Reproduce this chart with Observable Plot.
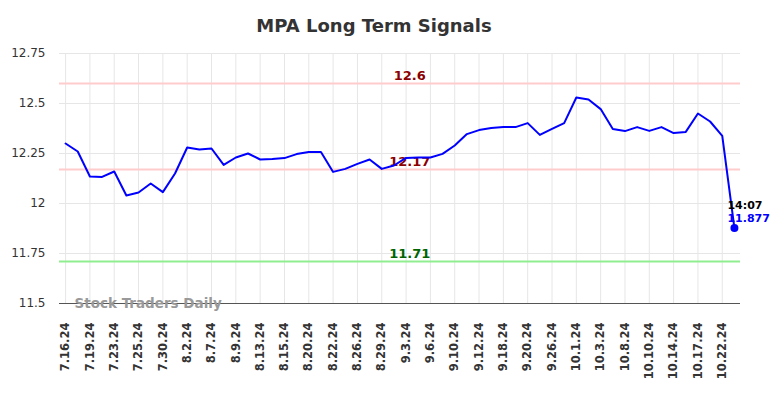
<!DOCTYPE html>
<html>
<head>
<meta charset="utf-8">
<script src="https://cdn.jsdelivr.net/npm/d3@7"></script>
<script src="https://cdn.jsdelivr.net/npm/@observablehq/plot@0.6"></script>
<style>
  body { margin: 0; background: #fff; font-family: "DejaVu Sans", sans-serif; }
  #title { height: 40px; width: 784px; box-sizing: border-box; padding-right: 36px; text-align: center;
           font-weight: bold; font-size: 18px; color: #333; line-height: 52px; }
  .xax text { font-weight: bold; font-size: 11.5px; }
</style>
</head>
<body>
<div id="title">MPA Long Term Signals</div>
<div id="chart"></div>
<script>
const tickLabels = ["7.16.24","7.19.24","7.23.24","7.25.24","7.30.24","8.2.24","8.7.24","8.9.24","8.13.24","8.15.24","8.20.24","8.22.24","8.26.24","8.29.24","9.3.24","9.6.24","9.10.24","9.12.24","9.18.24","9.20.24","9.26.24","10.1.24","10.3.24","10.8.24","10.10.24","10.14.24","10.17.24","10.22.24"];
const prices = [12.30,12.26,12.135,12.133,12.16,12.04,12.055,12.10,12.057,12.15,
  12.28,12.27,12.275,12.193,12.23,12.25,12.22,12.222,12.227,12.247,
  12.258,12.258,12.158,12.173,12.198,12.22,12.173,12.19,12.228,12.23,
  12.23,12.248,12.29,12.347,12.367,12.377,12.382,12.382,12.402,12.343,
  12.373,12.402,12.53,12.52,12.472,12.372,12.362,12.382,12.363,12.382,
  12.352,12.358,12.45,12.41,12.338,11.877];
const yTicks = [11.5, 11.75, 12, 12.25, 12.5, 12.75];
const signalValues = [12.6, 12.17, 11.71];
const signalLabels = ["12.6", "12.17", "11.71"];
const signalLineColors = ["#ffcccc", "#ffcccc", "#90ee90"];
const signalTextColors = ["#8b0000", "#8b0000", "#006400"];
const lastTime = "14:07";

const data = prices.map((v, i) => ({i, v}));
const signals = signalValues.map((v, k) => ({v, label: signalLabels[k], line: signalLineColors[k], text: signalTextColors[k]}));
const tickIdx = tickLabels.map((_, k) => k * 2);
const last = data[data.length - 1];
const labelX = 28.3;

const chart = Plot.plot({
  width: 784, height: 358,
  marginLeft: 59, marginRight: 44, marginTop: 13, marginBottom: 95,
  style: {fontFamily: "DejaVu Sans, sans-serif", fontSize: "12px", color: "#333", background: "#fff"},
  y: {domain: [11.5, 12.75], label: null},
  x: {type: "linear", domain: [-0.5, prices.length - 0.5], label: null},
  marks: [
    Plot.gridY(yTicks, {stroke: "#e6e6e6", strokeOpacity: 1, strokeWidth: 1}),
    Plot.gridX(tickIdx, {stroke: "#e6e6e6", strokeOpacity: 1, strokeWidth: 1}),
    Plot.axisY(yTicks, {tickFormat: d => String(d), tickSize: 0, tickPadding: 14, fontSize: 12, label: null}),
    Plot.axisX(tickIdx, {tickFormat: i => tickLabels[i / 2], tickRotate: -90, tickSize: 0, tickPadding: 19,
      fontWeight: "bold", fontSize: 11.5, label: null, className: "xax"}),
    Plot.ruleY(signals, {y: "v", stroke: "line", strokeWidth: 2}),
    Plot.text(signals, {x: () => labelX, y: "v", text: "label", fill: "text", fontWeight: "bold", fontSize: 13, dy: -8}),
    Plot.ruleY([11.5], {stroke: "#555", strokeWidth: 1}),
    Plot.text(["Stock Traders Daily"], {frameAnchor: "bottom-left", dx: 15, dy: 4, fill: "#999", fontWeight: "bold", fontSize: 13.5, textAnchor: "start"}),
    Plot.line(data, {x: "i", y: "v", stroke: "#0000ff", strokeWidth: 2}),
    Plot.dot([last], {x: "i", y: "v", r: 4, fill: "#0000ff"}),
    Plot.text([last], {x: "i", y: "v", text: () => lastTime, dx: -7, dy: -23, textAnchor: "start", fill: "#000", fontWeight: "bold", fontSize: 11}),
    Plot.text([last], {x: "i", y: "v", text: d => String(d.v), dx: -7, dy: -10, textAnchor: "start", fill: "#0000ff", fontWeight: "bold", fontSize: 11})
  ]
});
document.getElementById("chart").appendChild(chart);
</script>
</body>
</html>
